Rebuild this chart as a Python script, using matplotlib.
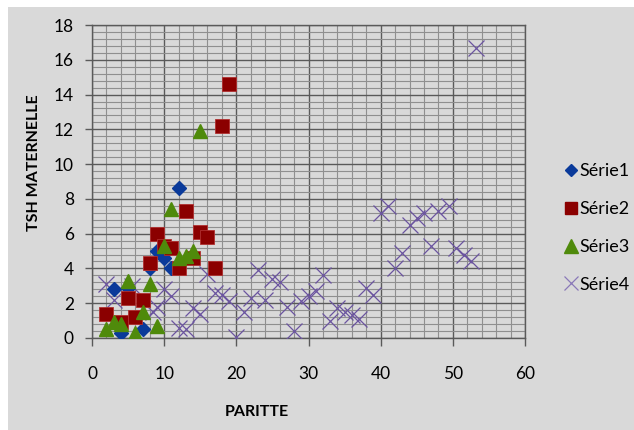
import matplotlib
matplotlib.use("Agg")
import matplotlib.pyplot as plt
from matplotlib.patches import Rectangle
from matplotlib.ticker import MultipleLocator
from matplotlib.lines import Line2D

plt.rcParams['font.family'] = ['Lato', 'DejaVu Sans']

# Série1
s1_x = [3, 4, 5, 7, 8, 9, 10, 11, 12]
s1_y = [2.8, 0.3, 2.9, 0.5, 4.0, 5.0, 4.6, 4.0, 8.6]

# Série2
s2_x = [2, 4, 5, 6, 7, 8, 9, 10, 11, 12, 13, 14, 15, 16, 17, 18, 19]
s2_y = [1.4, 0.9, 2.3, 1.2, 2.2, 4.3, 6.0, 5.3, 5.2, 4.0, 7.3, 4.6, 6.1, 5.8, 4.0, 12.2, 14.6]

# Série3
s3_x = [2, 3, 4, 5, 6, 7, 8, 9, 10, 11, 12, 13, 14, 15]
s3_y = [0.5, 0.9, 0.8, 3.3, 0.3, 1.5, 3.1, 0.7, 5.3, 7.4, 4.6, 4.7, 5.0, 11.9]

# Série4
s4_x = [2, 3, 5.5, 8.5, 9, 10, 11, 12, 13, 14, 15, 16, 17, 18, 19, 20, 21, 22, 23,
        24, 25, 26, 27, 28, 29, 30, 31, 32, 33, 34, 35, 36, 37, 38, 39, 40, 41, 42,
        43, 44, 45, 46, 47, 48, 49.5, 50.5, 51.5, 52.5, 53.2]
s4_y = [3.1, 2.2, 3.0, 1.5, 1.8, 2.8, 2.4, 0.6, 0.5, 1.7, 1.4, 3.7, 2.6, 2.5, 2.1, 0.05, 1.5,
        2.3, 3.9, 2.2, 3.4, 3.2, 1.8, 0.4, 2.1, 2.4, 2.7, 3.6, 1.0, 1.7, 1.5, 1.3, 1.1,
        2.9, 2.5, 7.2, 7.6, 4.0, 4.9, 6.5, 6.9, 7.2, 5.3, 7.3, 7.6, 5.2, 4.8, 4.4, 16.7]

series_names = ['Série1', 'Série2', 'Série3', 'Série4']
x_ticks = [0, 10, 20, 30, 40, 50, 60]
y_ticks = [0, 2, 4, 6, 8, 10, 12, 14, 16, 18]

BG = '#d9d9d9'
W, H = 634, 430
fig = plt.figure(figsize=(W / 100, H / 100), dpi=100, facecolor='white')
fig.patches.append(Rectangle((8 / W, 0), 1 - 8 / W, 1 - 7 / H, transform=fig.transFigure,
                             facecolor=BG, edgecolor='none', zorder=-10))

ax = fig.add_axes([92 / W, 1 - 338 / H, (525 - 92) / W, (338 - 25) / H])
ax.set_facecolor(BG)
ax.set_xlim(0, 60)
ax.set_ylim(0, 18)

ax.xaxis.set_minor_locator(MultipleLocator(2))
ax.yaxis.set_minor_locator(MultipleLocator(0.4))
ax.set_xticks(x_ticks)
ax.set_yticks(y_ticks)
ax.grid(which='minor', color='#8f8f8f', linewidth=0.8)
ax.grid(which='major', color='#5a5a5a', linewidth=1.0)
ax.set_axisbelow(True)
for sp in ax.spines.values():
    sp.set_color('#5a5a5a')
    sp.set_linewidth(1.0)

ax.tick_params(axis='x', which='major', direction='out', length=6, width=1, color='#5a5a5a',
               pad=14, labelsize=12.5)
ax.tick_params(axis='y', which='major', direction='out', length=5, width=1, color='#5a5a5a',
               pad=8, labelsize=12.5)
ax.tick_params(which='minor', length=0)

ax.plot(s4_x, s4_y, linestyle='none', marker='x', markersize=11, markeredgewidth=0.9,
        color='#6b54a0', label=series_names[3], zorder=3)
ax.plot(s1_x, s1_y, linestyle='none', marker='D', markersize=7, color='#0a3a9a',
        markeredgecolor='#0a3a9a', label=series_names[0], zorder=4)
ax.plot(s2_x, s2_y, linestyle='none', marker='s', markersize=9.5, color='#8b0000',
        markeredgecolor='#b03030', markeredgewidth=0.6, label=series_names[1], zorder=5)
ax.plot(s3_x, s3_y, linestyle='none', marker='^', markersize=10, color='#4f8a0b',
        markeredgecolor='#4f8a0b', label=series_names[2], zorder=6)

handles = [
    Line2D([], [], linestyle='none', marker='D', markersize=6.5, color='#0a3a9a'),
    Line2D([], [], linestyle='none', marker='s', markersize=9, color='#8b0000'),
    Line2D([], [], linestyle='none', marker='^', markersize=9.5, color='#4f8a0b'),
    Line2D([], [], linestyle='none', marker='x', markersize=10, markeredgewidth=0.9, color='#8a78b8'),
]
fig.legend(handles, series_names, loc='center left', bbox_to_anchor=(566 / W, 1 - 228 / H),
           frameon=False, fontsize=13, handlelength=0.6, handletextpad=0.15,
           labelspacing=1.2, borderpad=0, borderaxespad=0)

fig.text(34 / W, 1 - 163 / H, 'TSH MATERNELLE', rotation=90, ha='center', va='center',
         fontsize=11.5, fontweight='bold')
fig.text(257 / W, 1 - 412 / H, 'PARITTE', ha='center', va='center',
         fontsize=11.5, fontweight='bold')

fig.savefig('out.png', dpi=100, facecolor=fig.get_facecolor())
